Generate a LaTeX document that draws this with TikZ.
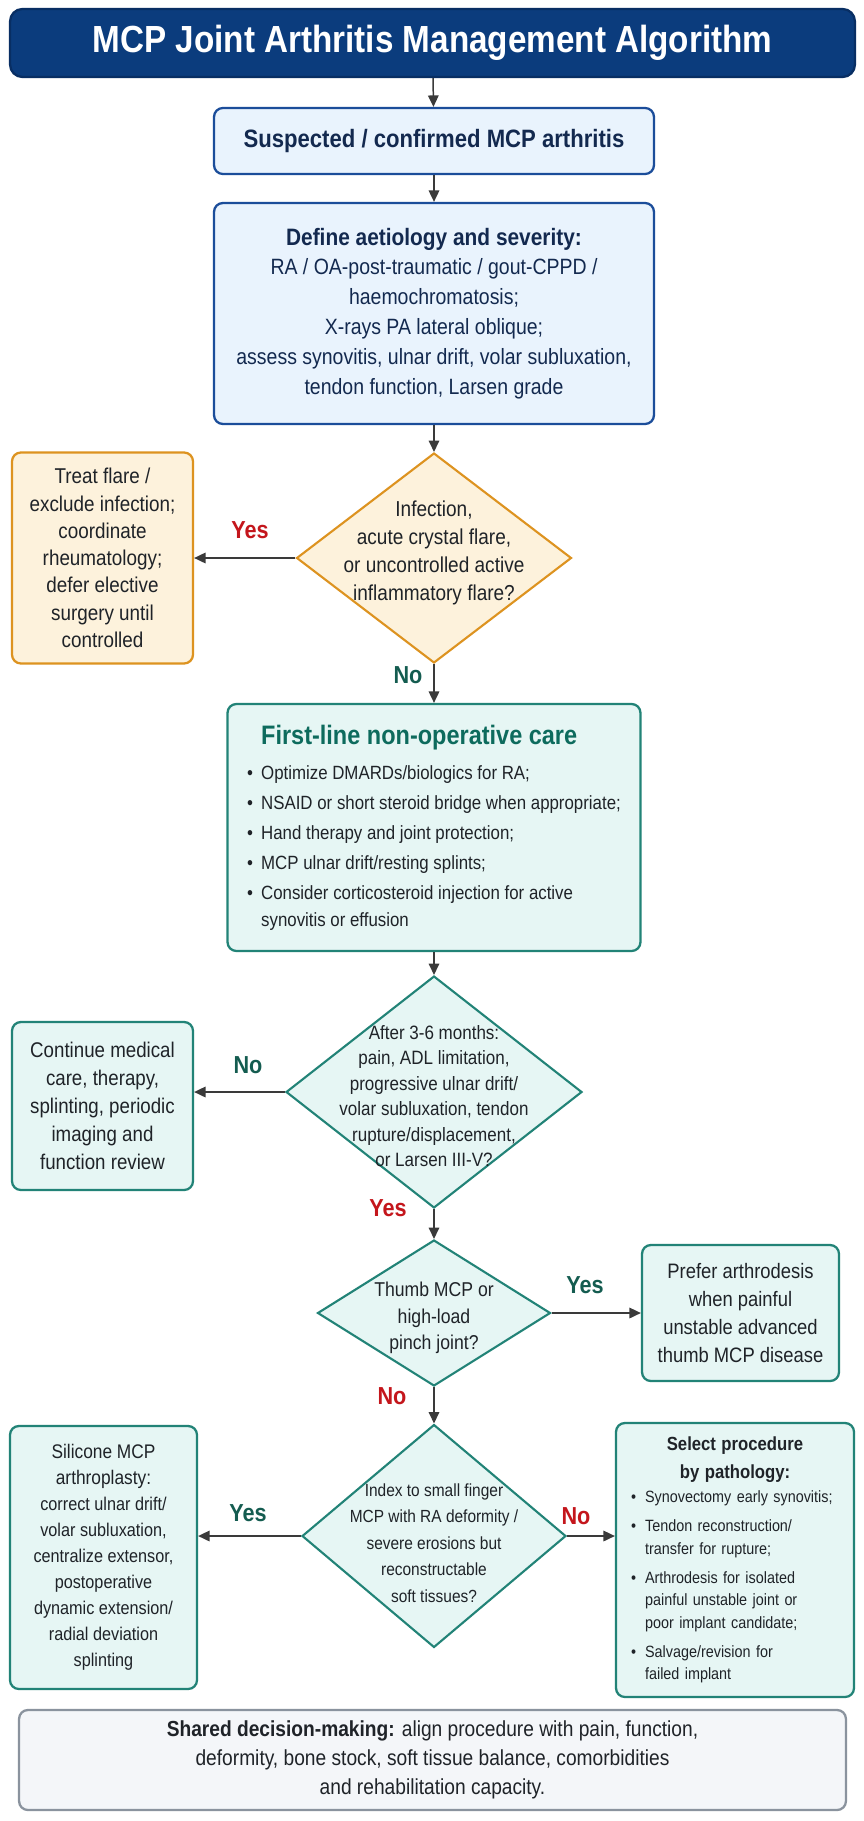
\documentclass[tikz,border=0pt]{standalone}
\usepackage{fontspec}
\setmainfont{Liberation Sans}[FakeStretch=0.88]
\usetikzlibrary{shapes.geometric,arrows.meta}

\definecolor{titlefill}{HTML}{0B3C7D}
\definecolor{titleline}{HTML}{082E63}
\definecolor{bluefill}{HTML}{E9F3FD}
\definecolor{blueline}{HTML}{1B4D9A}
\definecolor{navytext}{HTML}{13294F}
\definecolor{orangefill}{HTML}{FDF2DC}
\definecolor{orangeline}{HTML}{DD9320}
\definecolor{tealfill}{HTML}{E6F6F4}
\definecolor{tealline}{HTML}{228377}
\definecolor{tealtext}{HTML}{0D6B5D}
\definecolor{greyfill}{HTML}{F4F6F9}
\definecolor{greyline}{HTML}{8A939E}
\definecolor{darktext}{HTML}{1F2328}
\definecolor{arrowgrey}{HTML}{3A3A3A}
\definecolor{redlab}{HTML}{C4161C}
\definecolor{greenlab}{HTML}{145C50}

\newcommand{\fsz}[2]{\fontsize{#1}{#2}\selectfont}
\newcommand{\bpt}{\makebox[8pt][l]{\textbullet}}
\newcommand{\bsk}{\hspace*{8pt}}

\tikzset{
  box/.style={draw, rounded corners=5pt, line width=1.3pt, inner sep=0pt, align=center},
  bluebox/.style={box, draw=blueline, fill=bluefill, text=navytext},
  orangebox/.style={box, draw=orangeline, fill=orangefill, text=darktext},
  tealbox/.style={box, draw=tealline, fill=tealfill, text=darktext},
  decision/.style={diamond, draw, line width=1.2pt, inner sep=0pt},
  dectext/.style={align=center, text=darktext},
  arr/.style={-{Triangle[length=6.5pt,width=6pt]}, line width=0.85pt, draw=arrowgrey},
  lblred/.style={font=\fsz{14}{16}\bfseries, text=redlab},
  lblgreen/.style={font=\fsz{14}{16}\bfseries, text=greenlab}
}

\begin{document}
\begin{tikzpicture}[x=0.02cm, y=-0.02cm]
    \useasboundingbox[fill=white] (0,0) rectangle (864,1821);

    \node[box, draw=titleline, fill=titlefill, text=white, rounded corners=7pt,
      minimum width=16.9cm, minimum height=1.36cm, font=\fsz{21.5}{26}\bfseries]
      (title) at (432.5,43) {MCP Joint Arthritis Management Algorithm};

    \node[bluebox, minimum width=8.8cm, minimum height=1.32cm, font=\fsz{14.3}{17}\bfseries]
      (sus) at (434,141) {Suspected / confirmed MCP arthritis};

    \node[bluebox, minimum width=8.8cm, minimum height=4.42cm, font=\fsz{12.6}{17}]
      (def) at (434,313.5) {{\fsz{13.5}{17}\bfseries Define aetiology and severity:}\\
      RA / OA-post-traumatic / gout-CPPD /\\ haemochromatosis;\\ X-rays PA lateral oblique;\\
      assess synovitis, ulnar drift, volar subluxation,\\ tendon function, Larsen grade};

    \node[decision, draw=orangeline, fill=orangefill, minimum width=5.5cm, minimum height=4.2cm]
      (inf) at (434,558) {};
    \node[dectext, font=\fsz{12.3}{16}] (infTxt) at (434,553)
      {Infection,\\ acute crystal flare,\\ or uncontrolled active\\ inflammatory flare?};

    \node[orangebox, minimum width=3.62cm, minimum height=4.22cm, font=\fsz{12.2}{15.5}]
      (flare) at (102.5,558) {Treat flare /\\ exclude infection;\\ coordinate\\ rheumatology;\\
      defer elective\\ surgery until\\ controlled};

    \node[tealbox, minimum width=8.26cm, minimum height=4.94cm, align=left,
      font=\fsz{10.9}{15.4}] (care) at (434,827.5)
      {\bsk{\fsz{15.2}{15.4}\bfseries\color{tealtext}First-line non-operative care}\\[5pt]
      \bpt Optimize DMARDs/biologics for RA;\\[1.6pt]
      \bpt NSAID or short steroid bridge when appropriate;\\[1.6pt]
      \bpt Hand therapy and joint protection;\\[1.6pt]
      \bpt MCP ulnar drift/resting splints;\\[1.6pt]
      \bpt Consider corticosteroid injection for active\\ \bsk synovitis or effusion};

    \node[decision, draw=tealline, fill=tealfill, minimum width=5.92cm, minimum height=4.64cm]
      (prog) at (434,1092) {};
    \node[dectext, font=\fsz{11}{14.5}] (progTxt) at (434,1096)
      {After 3-6 months:\\ pain, ADL limitation,\\ progressive ulnar drift/\\
      volar subluxation, tendon\\ rupture/displacement,\\ or Larsen III-V?};

    \node[tealbox, minimum width=3.62cm, minimum height=3.36cm, font=\fsz{12.1}{16}]
      (cont) at (102.5,1106) {Continue medical\\ care, therapy,\\ splinting, periodic\\
      imaging and\\ function review};

    \node[decision, draw=tealline, fill=tealfill, minimum width=4.66cm, minimum height=2.92cm]
      (thumb) at (434,1313) {};
    \node[dectext, font=\fsz{11.4}{15}] (thumbTxt) at (434,1318)
      {Thumb MCP or\\ high-load\\ pinch joint?};

    \node[tealbox, minimum width=3.94cm, minimum height=2.72cm, font=\fsz{11.9}{16}]
      (pref) at (740.5,1313) {Prefer arthrodesis\\ when painful\\ unstable advanced\\
      thumb MCP disease};

    \node[decision, draw=tealline, fill=tealfill, minimum width=5.28cm, minimum height=4.46cm]
      (idx) at (434,1536) {};
    \node[dectext, font=\fsz{10}{15}] (idxTxt) at (434,1543)
      {Index to small finger\\ MCP with RA deformity /\\ severe erosions but\\
      reconstructable\\ soft tissues?};

    \node[tealbox, minimum width=3.74cm, minimum height=5.26cm, font=\fsz{10.5}{14.8}]
      (sil) at (103.5,1557.5) {{\fsz{11.2}{14.8}Silicone MCP}\\ {\fsz{11.2}{14.8}arthroplasty:}\\
      correct ulnar drift/\\ volar subluxation,\\ centralize extensor,\\ postoperative\\
      dynamic extension/\\ radial deviation\\ splinting};

    \node[tealbox, minimum width=4.76cm, minimum height=5.48cm, text width=4.16cm, align=left,
      font=\fsz{9.3}{12.8}] (sel) at (735,1560)
      {{\centering\fsz{10.8}{16}\bfseries Select procedure\\ by pathology:\par}\vspace{1pt}
      \bpt Synovectomy early synovitis;\\[3.7pt]
      \bpt Tendon reconstruction/\\ \bsk transfer for rupture;\\[3.7pt]
      \bpt Arthrodesis for isolated\\ \bsk painful unstable joint or\\ \bsk poor implant candidate;\\[3.7pt]
      \bpt Salvage/revision for\\ \bsk failed implant};

    \node[box, draw=greyline, fill=greyfill, text=darktext, minimum width=16.54cm,
      minimum height=2cm, font=\fsz{12.4}{16.5}] (shared) at (432.5,1760)
      {{\bfseries Shared decision-making:} align procedure with pain, function,\\
      deformity, bone stock, soft tissue balance, comorbidities\\ and rehabilitation capacity.};

    \draw[arr] (title) -- (sus);
    \draw[arr] (sus) -- (def);
    \draw[arr] (def) -- (inf.north);
    \draw[arr] (inf.west) -- (flare.east);
    \draw[arr] (inf.south) -- (care.north);
    \draw[arr] (care) -- (prog.north);
    \draw[arr] (prog.west) -- (prog.west -| cont.east);
    \draw[arr] (prog.south) -- (thumb.north);
    \draw[arr] (thumb.east) -- (pref.west);
    \draw[arr] (thumb.south) -- (idx.north);
    \draw[arr] (idx.west) -- (idx.west -| sil.east);
    \draw[arr] (idx.east) -- (idx.east -| sel.west);

    \node[lblred] (yesA) at (250,530) {Yes};
    \node[lblgreen] (noA) at (408,675) {No};
    \node[lblgreen] (noB) at (248,1065) {No};
    \node[lblred] (yesB) at (388,1208) {Yes};
    \node[lblgreen] (yesC) at (585,1285) {Yes};
    \node[lblred] (noC) at (392,1396) {No};
    \node[lblgreen] (yesD) at (248,1513) {Yes};
    \node[lblred] (noD) at (576,1516) {No};
\end{tikzpicture}
\end{document}
